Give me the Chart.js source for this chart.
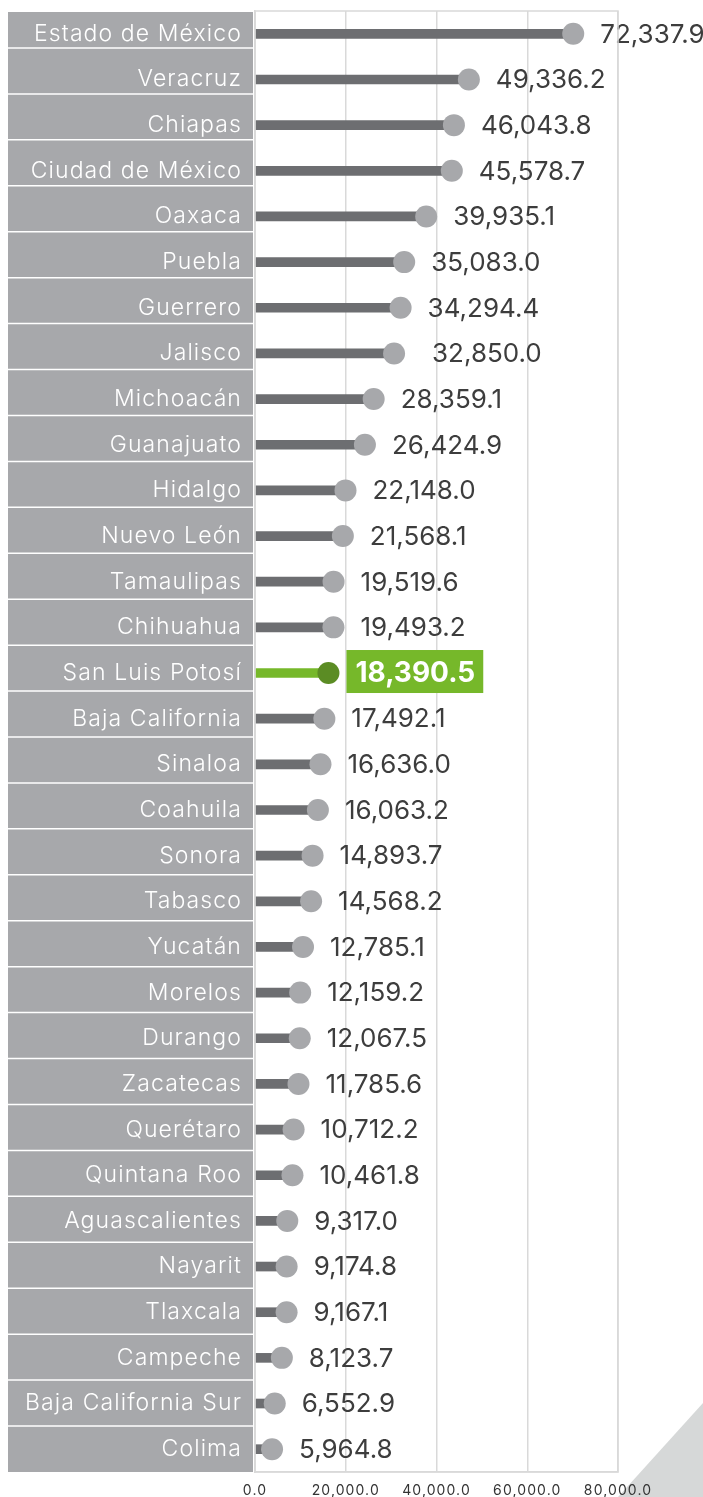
<!DOCTYPE html>
<html>
<head>
<meta charset="utf-8">
<script src="https://cdn.jsdelivr.net/npm/chart.js@4.4.1/dist/chart.umd.min.js"></script>
<style>
  html, body { margin: 0; padding: 0; background: #fff; }
  #wrap { position: relative; width: 703px; height: 1497px; overflow: hidden; }
  #deco { position: absolute; left: 0; top: 0; width: 703px; height: 1497px;
          background: #d6d8d8; clip-path: polygon(618px 1497px, 703px 1403px, 703px 1497px); }
  canvas { position: absolute; left: 0; top: 0; }
</style>
</head>
<body>
<div id="wrap">
  <div id="deco"></div>
  <canvas id="chart" width="703" height="1497"></canvas>
</div>
<script>
const states = ["Estado de México", "Veracruz", "Chiapas", "Ciudad de México", "Oaxaca", "Puebla",
  "Guerrero", "Jalisco", "Michoacán", "Guanajuato", "Hidalgo", "Nuevo León", "Tamaulipas",
  "Chihuahua", "San Luis Potosí", "Baja California", "Sinaloa", "Coahuila", "Sonora", "Tabasco",
  "Yucatán", "Morelos", "Durango", "Zacatecas", "Querétaro", "Quintana Roo", "Aguascalientes",
  "Nayarit", "Tlaxcala", "Campeche", "Baja California Sur", "Colima"];
const values = [72337.9, 49336.2, 46043.8, 45578.7, 39935.1, 35083.0, 34294.4, 32850.0, 28359.1,
  26424.9, 22148.0, 21568.1, 19519.6, 19493.2, 18390.5, 17492.1, 16636.0, 16063.2, 14893.7,
  14568.2, 12785.1, 12159.2, 12067.5, 11785.6, 10712.2, 10461.8, 9317.0, 9174.8, 9167.1,
  8123.7, 6552.9, 5964.8];
const xTicks = [0, 20000, 40000, 60000, 80000];
const highlight = "San Luis Potosí";

const FONT = "Inter, 'Open Sans', sans-serif";
const fmt = v => v.toLocaleString("en-US", { minimumFractionDigits: 1, maximumFractionDigits: 1 });
const hi = states.indexOf(highlight);

// markers sit a bit left of their value, as in the original
const MARK_SHIFT = -10;

const shiftPlugin = {
  id: "shift",
  afterDatasetsUpdate(chart) {
    chart.data.datasets.forEach((ds, i) => {
      chart.getDatasetMeta(i).data.forEach(el => { el.x += MARK_SHIFT; });
    });
  }
};

const labelBoxes = {
  id: "labelBoxes",
  beforeDraw(chart) {
    const { ctx, chartArea: a } = chart;
    // the original font is wider, spread the axis labels a little
    ctx.letterSpacing = "1.1px";
    const left = 8, right = a.left - 2, top = a.top + 1, bottom = a.bottom;
    ctx.save();
    ctx.fillStyle = "#a7a8ab";
    ctx.fillRect(left, top, right - left, bottom - top);
    ctx.strokeStyle = "#ffffff";
    ctx.lineWidth = 1.5;
    const n = states.length;
    const first = top + 36, last = bottom - 46;
    for (let k = 0; k < n - 1; k++) {
      const y = first + (last - first) * k / (n - 2);
      ctx.beginPath();
      ctx.moveTo(left, y);
      ctx.lineTo(right, y);
      ctx.stroke();
    }
    ctx.restore();
  },
  afterDraw(chart) {
    const { ctx, chartArea: a } = chart;
    ctx.save();
    ctx.strokeStyle = "#d9d9d9";
    ctx.lineWidth = 1.5;
    ctx.strokeRect(a.left, a.top, a.right - a.left, a.bottom - a.top);
    ctx.restore();
  }
};

const valueLabels = {
  id: "valueLabels",
  afterDatasetsDraw(chart) {
    const { ctx } = chart;
    const pts = chart.getDatasetMeta(0).data;
    ctx.save();
    ctx.letterSpacing = "0px";
    ctx.textBaseline = "middle";
    ctx.textAlign = "left";
    pts.forEach((p, i) => {
      let x = p.x + 27;
      if (states[i] === "Jalisco") x += 11;
      const txt = fmt(values[i]);
      if (i === hi) {
        ctx.font = "bold 28px " + FONT;
        const w = ctx.measureText(txt).width;
        ctx.fillStyle = "#76b82a";
        ctx.fillRect(x - 9, p.y - 23, w + 17, 43);
        ctx.fillStyle = "#ffffff";
        ctx.fillText(txt, x, p.y + 1);
      } else {
        ctx.font = "26px " + FONT;
        ctx.fillStyle = "#3d3d3d";
        ctx.fillText(txt, x, p.y + 1);
      }
    });
    ctx.restore();
  }
};

const ctx = document.getElementById("chart").getContext("2d");
new Chart(ctx, {
  type: "bar",
  data: {
    labels: states,
    datasets: [
      {
        type: "line",
        data: values,
        showLine: false,
        pointRadius: 11,
        pointHoverRadius: 11,
        pointBorderWidth: 0,
        pointBackgroundColor: states.map((s, i) => i === hi ? "#5b8c24" : "#a7a8ab"),
        order: 1
      },
      {
        data: values,
        backgroundColor: states.map((s, i) => i === hi ? "#76b82a" : "#6d6e71"),
        barThickness: 9,
        order: 2
      }
    ]
  },
  options: {
    indexAxis: "y",
    responsive: false,
    animation: false,
    events: [],
    layout: { padding: { left: 8, right: 85, top: 11, bottom: 0 } },
    plugins: { legend: { display: false }, tooltip: { enabled: false } },
    scales: {
      x: {
        min: 0,
        max: 80000,
        afterBuildTicks: s => { s.ticks = xTicks.map(v => ({ value: v })); },
        afterFit: s => { s.height = 25; s.paddingLeft = 0; s.paddingRight = 0; },
        grid: { color: "#d9d9d9", lineWidth: 1.5, drawTicks: false },
        border: { color: "#d9d9d9", width: 1.5 },
        ticks: {
          padding: 10,
          color: "#333333",
          font: { family: FONT, size: 14 },
          callback: v => fmt(v)
        }
      },
      y: {
        afterFit: s => { s.width = 247; s.paddingTop = 0; s.paddingBottom = 0; },
        grid: { display: false, drawTicks: false },
        border: { color: "#d9d9d9", width: 1.5 },
        ticks: {
          autoSkip: false,
          padding: 13,
          color: "#ffffff",
          font: { family: FONT, size: 23, weight: 300 }
        }
      }
    }
  },
  plugins: [shiftPlugin, labelBoxes, valueLabels]
});
</script>
</body>
</html>
